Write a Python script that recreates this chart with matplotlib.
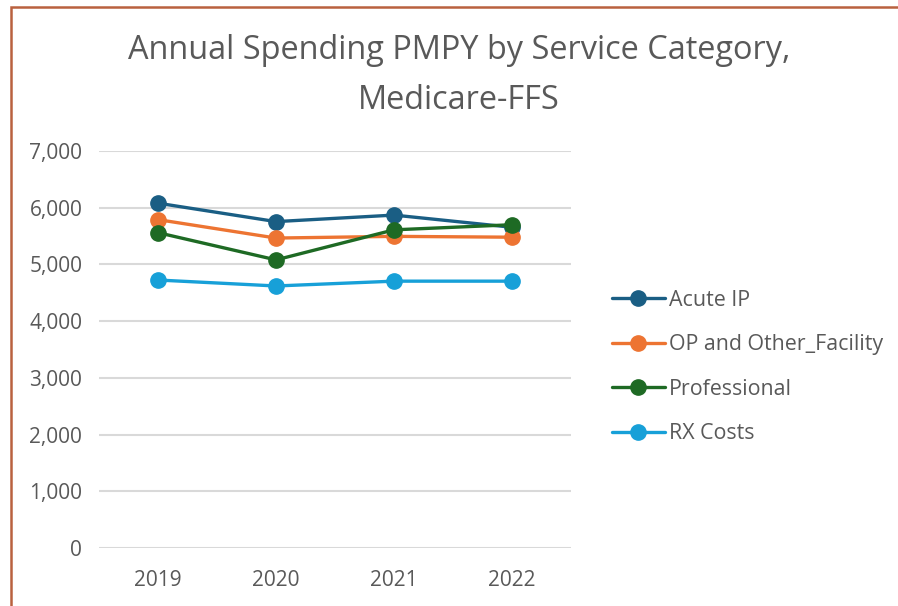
import matplotlib
matplotlib.use("Agg")
import matplotlib.pyplot as plt
from matplotlib.patches import Rectangle
from matplotlib.ticker import FuncFormatter

plt.rcParams['font.family'] = ['Open Sans', 'DejaVu Sans']

years = ["2019", "2020", "2021", "2022"]
acute_ip = [6080, 5755, 5870, 5655]
op_other = [5790, 5465, 5495, 5480]
professional = [5560, 5080, 5610, 5700]
rx_costs = [4725, 4620, 4705, 4705]

series = [
    ("Acute IP", acute_ip, "#1A5E84"),
    ("OP and Other_Facility", op_other, "#ED7432"),
    ("Professional", professional, "#1E6A24"),
    ("RX Costs", rx_costs, "#17A0D8"),
]

fig = plt.figure(figsize=(8.98, 6.06), dpi=100)
fig.patch.set_facecolor("white")

# chart-area border (only left and top edges visible in crop)
W, H = 898, 606
fig.patches.append(Rectangle((11 / W, -0.1), 1.2, 1 - 7 / H + 0.1, transform=fig.transFigure,
                             fill=False, edgecolor="#B9613F", linewidth=1.8))

ax = fig.add_axes([99 / W, 1 - 548 / H, (571 - 99) / W, (548 - 151) / H])
x = list(range(len(years)))
for name, vals, color in series:
    ax.plot(x, vals, color=color, linewidth=2.4, marker="o", markersize=11, label=name,
            solid_capstyle="round", zorder=3)

ax.set_xlim(-0.5, 3.5)
ax.set_ylim(0, 7000)
ax.set_yticks(range(0, 7001, 1000))
ax.yaxis.set_major_formatter(FuncFormatter(lambda v, p: f"{int(v):,}"))
ax.set_xticks(x)
ax.set_xticklabels(years)
ax.grid(axis="y", color="#D9D9D9", linewidth=1.5)
ax.set_axisbelow(True)
for s in ax.spines.values():
    s.set_visible(False)
ax.tick_params(axis="both", length=0, labelsize=15, colors="#595959")
ax.tick_params(axis="y", pad=12)
ax.tick_params(axis="x", pad=16)

fig.text(459 / W, 1 - 59 / H, "Annual Spending PMPY by Service Category,",
         ha="center", va="baseline", fontsize=23.4, color="#595959")
fig.text(459 / W, 1 - 109 / H, "Medicare-FFS",
         ha="center", va="baseline", fontsize=23.4, color="#595959")

leg = fig.legend(loc="upper left", bbox_to_anchor=(603 / W, 1 - 281 / H), frameon=False,
                 fontsize=15.4, labelcolor="#595959", handlelength=2.5, handletextpad=0.2,
                 labelspacing=1.1, borderaxespad=0)

fig.savefig("out.png", dpi=100)
